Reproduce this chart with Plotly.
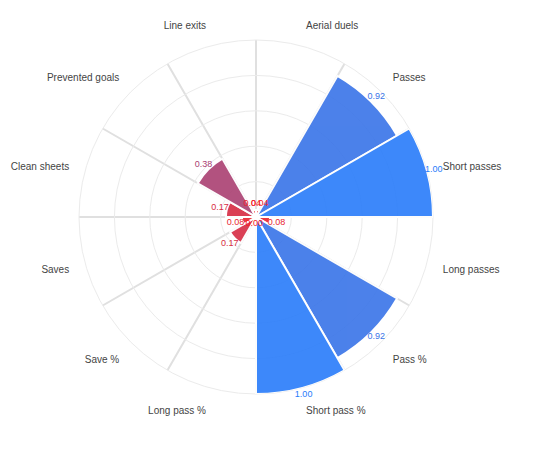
import plotly.graph_objects as go
from plotly.colors import sample_colorscale

# categories, clockwise from the top
categories = ["Aerial duels", "Passes", "Short passes", "Long passes", "Pass %", "Short pass %",
              "Long pass %", "Save %", "Saves", "Clean sheets", "Prevented goals", "Line exits"]
values = [0.04, 0.92, 1.00, 0.08, 0.92, 1.00, 0.00, 0.17, 0.08, 0.17, 0.38, 0.04]

scale = [[0, "rgb(250,28,30)"], [1, "rgb(40,124,250)"]]
colors = sample_colorscale(scale, values)
labels = [f"{v:.2f}" for v in values]

W, H = 545, 450
cx, cy, R = 248, 209, 177   # centre and radius of the polar, in pixels
R_MAX = 1.09                # radial range of the label polar (same scale, a bit larger)


def domain(rad):
    return dict(x=[(cx - rad) / W, (cx + rad) / W], y=[1 - (cy + rad) / H, 1 - (cy - rad) / H])


fig = go.Figure()

# bars, drawn from each category line to the next one
fig.add_trace(go.Barpolar(r=values, theta=categories, offset=0, subplot="polar",
                          marker=dict(color=values, colorscale=scale, cmin=0, cmax=1, opacity=0.9,
                                      line=dict(color="white", width=2)),
                          hoverinfo="skip"))

# value labels, on a second polar that carries the category names in the middle of each slice
fig.add_trace(go.Scatterpolar(r=[v + 0.04 for v in values], theta=categories, mode="text", text=labels,
                              textfont=dict(color=colors, size=9, family="Arial"), cliponaxis=False,
                              subplot="polar2", hoverinfo="skip"))

fig.update_layout(
    width=W, height=H,
    margin=dict(l=0, r=0, t=0, b=0),
    paper_bgcolor="white",
    showlegend=False,
    font=dict(family="Arial", size=10, color="#444"),
    polar=dict(
        domain=domain(R),
        bgcolor="white",
        bargap=0,
        radialaxis=dict(range=[0, 1], dtick=0.2, showticklabels=False, ticks="", showline=False,
                        gridcolor="#ebebeb", gridwidth=1, layer="below traces"),
        angularaxis=dict(type="category", categoryarray=categories, rotation=90, direction="clockwise",
                         showticklabels=False, ticks="", gridcolor="#e0e0e0", gridwidth=1.5,
                         linecolor="#ebebeb", linewidth=1, layer="below traces"),
    ),
    polar2=dict(
        domain=domain(R * R_MAX),
        bgcolor="rgba(0,0,0,0)",
        radialaxis=dict(range=[0, R_MAX], visible=False),
        angularaxis=dict(type="category", categoryarray=categories, rotation=75, direction="clockwise",
                         showgrid=False, showline=False, ticks="",
                         tickfont=dict(family="Arial", size=10, color="#444")),
    ),
)

fig.write_html("out.html")
